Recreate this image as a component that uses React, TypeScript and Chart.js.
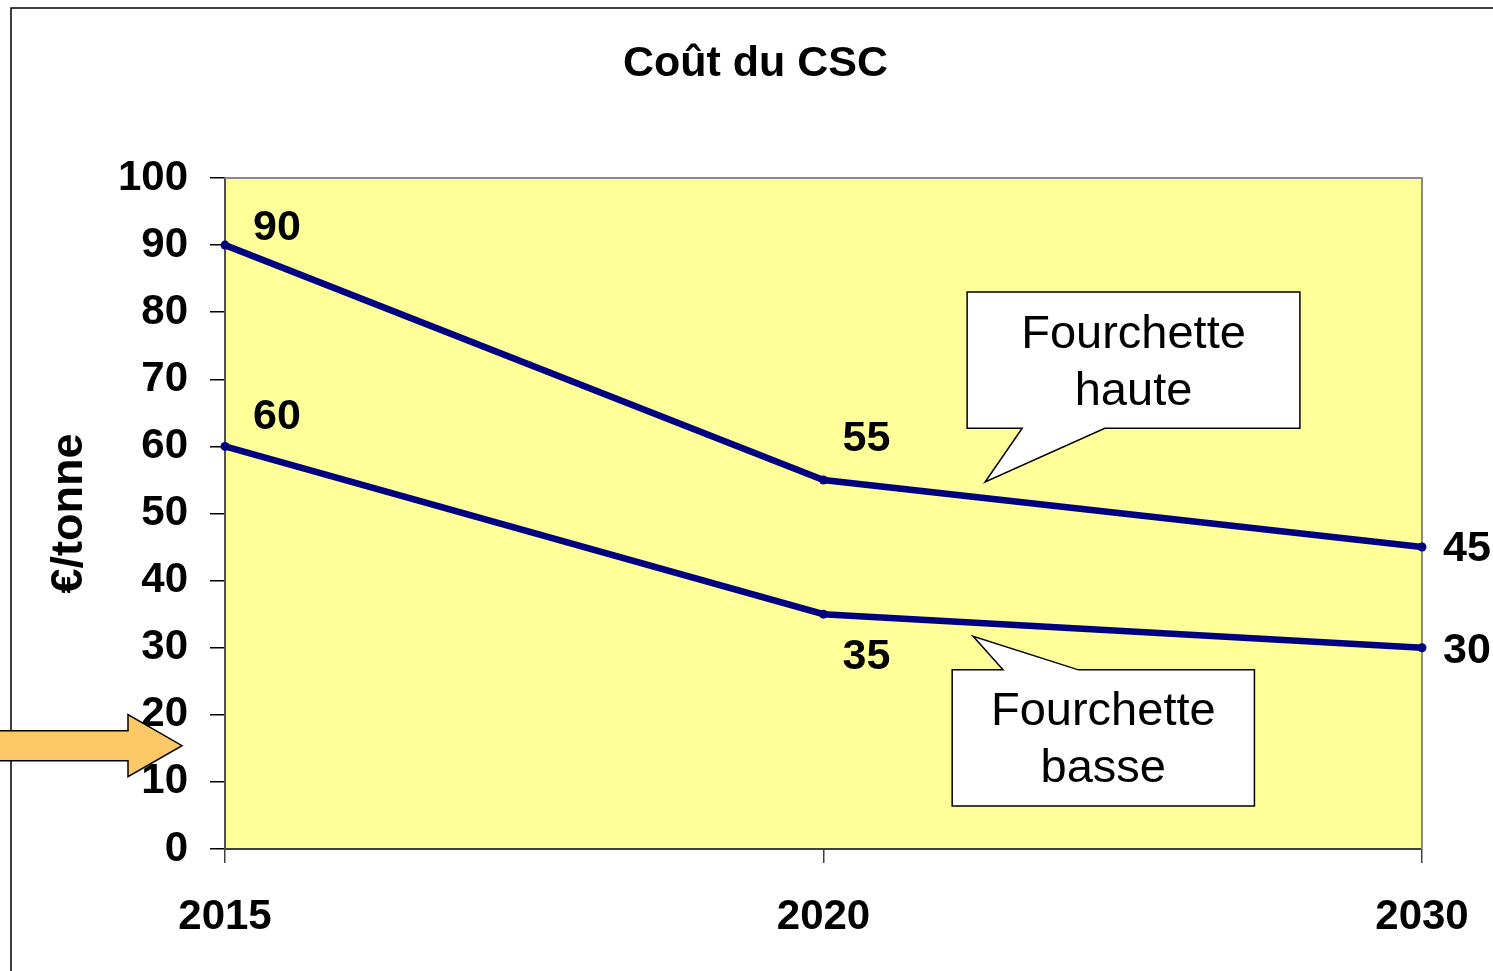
import React, { useEffect, useRef } from "react";
import { Chart, registerables } from "chart.js";

Chart.register(...registerables);

// ---- data ----
const years = ["2015", "2020", "2030"];
const highRange = [90, 55, 45];
const lowRange = [60, 35, 30];
const yMin = 0;
const yMax = 100;
const yStep = 10;
const chartTitle = "Coût du CSC";
const yAxisTitle = "€/tonne";
const calloutHighText = ["Fourchette", "haute"];
const calloutLowText = ["Fourchette", "basse"];

const FONT = "'Liberation Sans', Arial, Helvetica, sans-serif";
const NAVY = "#000080";

// label offsets (px) per point for each series
const highLabelOffsets = [
  [52, -17],
  [43, -41],
  [45, 2],
];
const lowLabelOffsets = [
  [52, -29],
  [43, 43],
  [45, 3],
];

const backgroundPlugin = {
  id: "bg",
  beforeDraw(chart: any) {
    const { ctx, chartArea, width, height } = chart;
    ctx.save();
    ctx.fillStyle = "#ffffff";
    ctx.fillRect(0, 0, width, height);
    // outer frame
    ctx.strokeStyle = "#000000";
    ctx.lineWidth = 1.5;
    ctx.beginPath();
    ctx.moveTo(11, height + 5);
    ctx.lineTo(11, 8);
    ctx.lineTo(width + 5, 8);
    ctx.stroke();
    // plot area fill
    ctx.fillStyle = "#FFFF99";
    ctx.fillRect(chartArea.left, chartArea.top, chartArea.right - chartArea.left, chartArea.bottom - chartArea.top);
    // title
    ctx.fillStyle = "#000";
    ctx.font = `bold 43px ${FONT}`;
    ctx.textAlign = "center";
    ctx.textBaseline = "middle";
    ctx.fillText(chartTitle, width / 2 + 9, 64);
    ctx.restore();
  },
  beforeDatasetsDraw(chart: any) {
    const { ctx, chartArea } = chart;
    ctx.save();
    ctx.strokeStyle = "#8a8a8a";
    ctx.lineWidth = 2;
    ctx.beginPath();
    ctx.moveTo(chartArea.left, chartArea.top);
    ctx.lineTo(chartArea.right, chartArea.top);
    ctx.lineTo(chartArea.right, chartArea.bottom);
    ctx.stroke();
    ctx.restore();
  },
};

const dataLabelPlugin = {
  id: "dataLabels",
  afterDatasetsDraw(chart: any) {
    const { ctx } = chart;
    const offsets = [highLabelOffsets, lowLabelOffsets];
    ctx.save();
    ctx.font = `bold 43px ${FONT}`;
    ctx.fillStyle = "#000";
    ctx.textAlign = "center";
    ctx.textBaseline = "middle";
    chart.data.datasets.forEach((ds: any, di: number) => {
      const meta = chart.getDatasetMeta(di);
      meta.data.forEach((pt: any, i: number) => {
        const [dx, dy] = offsets[di][i];
        ctx.fillText(String(ds.data[i]), pt.x + dx, pt.y + dy);
      });
    });
    ctx.restore();
  },
};

function drawCallout(
  chart: any,
  box: [number, number, number, number], // x0,x1 (index), yTop,yBottom (value)
  tailBase: [number, number],
  tailEdge: "top" | "bottom",
  tip: [number, number],
  lines: string[]
) {
  const { ctx, scales } = chart;
  const xs = scales.x;
  const ys = scales.y;
  const x0 = xs.getPixelForValue(box[0]);
  const x1 = xs.getPixelForValue(box[1]);
  const y0 = ys.getPixelForValue(box[2]);
  const y1 = ys.getPixelForValue(box[3]);
  const b0 = xs.getPixelForValue(tailBase[0]);
  const b1 = xs.getPixelForValue(tailBase[1]);
  const tx = xs.getPixelForValue(tip[0]);
  const ty = ys.getPixelForValue(tip[1]);
  ctx.save();
  ctx.beginPath();
  ctx.moveTo(x0, y0);
  if (tailEdge === "top") {
    ctx.lineTo(b0, y0);
    ctx.lineTo(tx, ty);
    ctx.lineTo(b1, y0);
  }
  ctx.lineTo(x1, y0);
  ctx.lineTo(x1, y1);
  if (tailEdge === "bottom") {
    ctx.lineTo(b1, y1);
    ctx.lineTo(tx, ty);
    ctx.lineTo(b0, y1);
  }
  ctx.lineTo(x0, y1);
  ctx.closePath();
  ctx.fillStyle = "#ffffff";
  ctx.fill();
  ctx.strokeStyle = "#000";
  ctx.lineWidth = 1.5;
  ctx.stroke();
  ctx.fillStyle = "#000";
  ctx.font = `47px ${FONT}`;
  ctx.textAlign = "center";
  ctx.textBaseline = "middle";
  const cx = (x0 + x1) / 2;
  const cy = (y0 + y1) / 2 + 3;
  const lh = 57;
  lines.forEach((t, i) => {
    ctx.fillText(t, cx, cy + (i - (lines.length - 1) / 2) * lh);
  });
  ctx.restore();
}

const annotationPlugin = {
  id: "annotations",
  afterDatasetsDraw(chart: any) {
    drawCallout(chart, [1.24, 1.796, 83.0, 62.7], [1.332, 1.47], "bottom", [1.27, 54.7], calloutHighText);
    drawCallout(chart, [1.215, 1.72, 26.7, 6.4], [1.3, 1.426], "top", [1.25, 31.7], calloutLowText);
  },
  afterDraw(chart: any) {
    const { ctx, chartArea, scales } = chart;
    const tipX = chartArea.left - 43;
    const tipY = scales.y.getPixelForValue(15.4);
    const headX = tipX - 54;
    ctx.save();
    ctx.beginPath();
    ctx.moveTo(-5, tipY - 15);
    ctx.lineTo(headX, tipY - 15);
    ctx.lineTo(headX, tipY - 31);
    ctx.lineTo(tipX, tipY);
    ctx.lineTo(headX, tipY + 31);
    ctx.lineTo(headX, tipY + 15);
    ctx.lineTo(-5, tipY + 15);
    ctx.closePath();
    ctx.fillStyle = "#FDC966";
    ctx.fill();
    ctx.strokeStyle = "#000";
    ctx.lineWidth = 1.5;
    ctx.stroke();
    ctx.restore();
  },
};

export default function App() {
  const ref = useRef<HTMLCanvasElement>(null);
  useEffect(() => {
    if (!ref.current) return;
    const chart = new Chart(ref.current, {
      type: "line",
      data: {
        labels: years,
        datasets: [
          {
            label: "Fourchette haute",
            data: highRange,
            borderColor: NAVY,
            backgroundColor: NAVY,
            borderWidth: 6.5,
            pointRadius: 4.5,
            pointBackgroundColor: NAVY,
            pointBorderWidth: 0,
            tension: 0,
            clip: false,
          },
          {
            label: "Fourchette basse",
            data: lowRange,
            borderColor: NAVY,
            backgroundColor: NAVY,
            borderWidth: 6.5,
            pointRadius: 4.5,
            pointBackgroundColor: NAVY,
            pointBorderWidth: 0,
            tension: 0,
            clip: false,
          },
        ],
      },
      options: {
        responsive: false,
        animation: false,
        layout: { autoPadding: false, padding: { left: 0, right: 71, top: 178, bottom: 0 } },
        plugins: {
          legend: { display: false },
          tooltip: { enabled: false },
          title: { display: false },
        },
        scales: {
          x: {
            type: "category",
            offset: false,
            afterFit: (s: any) => {
              s.height = 122;
              s.paddingLeft = 0;
              s.paddingRight = 0;
            },
            grid: { drawOnChartArea: false, tickLength: 14, color: "#404040", lineWidth: 1.5 },
            border: { color: "#404040", width: 2 },
            ticks: {
              color: "#000",
              padding: 29,
              maxRotation: 0,
              font: { family: FONT, size: 42, weight: "bold" },
            },
          },
          y: {
            min: yMin,
            max: yMax,
            afterFit: (s: any) => {
              s.width = 225;
              s.paddingTop = 0;
              s.paddingBottom = 0;
            },
            grid: { drawOnChartArea: false, tickLength: 15, color: "#000", lineWidth: 1.5 },
            border: { color: "#505050", width: 2 },
            ticks: {
              stepSize: yStep,
              color: "#000",
              padding: 22,
              font: { family: FONT, size: 42, weight: "bold" },
            },
            title: {
              display: true,
              text: yAxisTitle,
              color: "#000",
              font: { family: FONT, size: 45, weight: "bold" },
              padding: { top: 43, bottom: 0 },
            },
          },
        },
      },
      plugins: [backgroundPlugin, dataLabelPlugin, annotationPlugin],
    } as any);
    return () => chart.destroy();
  }, []);
  return (
    <canvas
      ref={ref}
      width={1493}
      height={971}
      style={{ position: "absolute", left: 0, top: 0, width: 1493, height: 971 }}
    />
  );
}
